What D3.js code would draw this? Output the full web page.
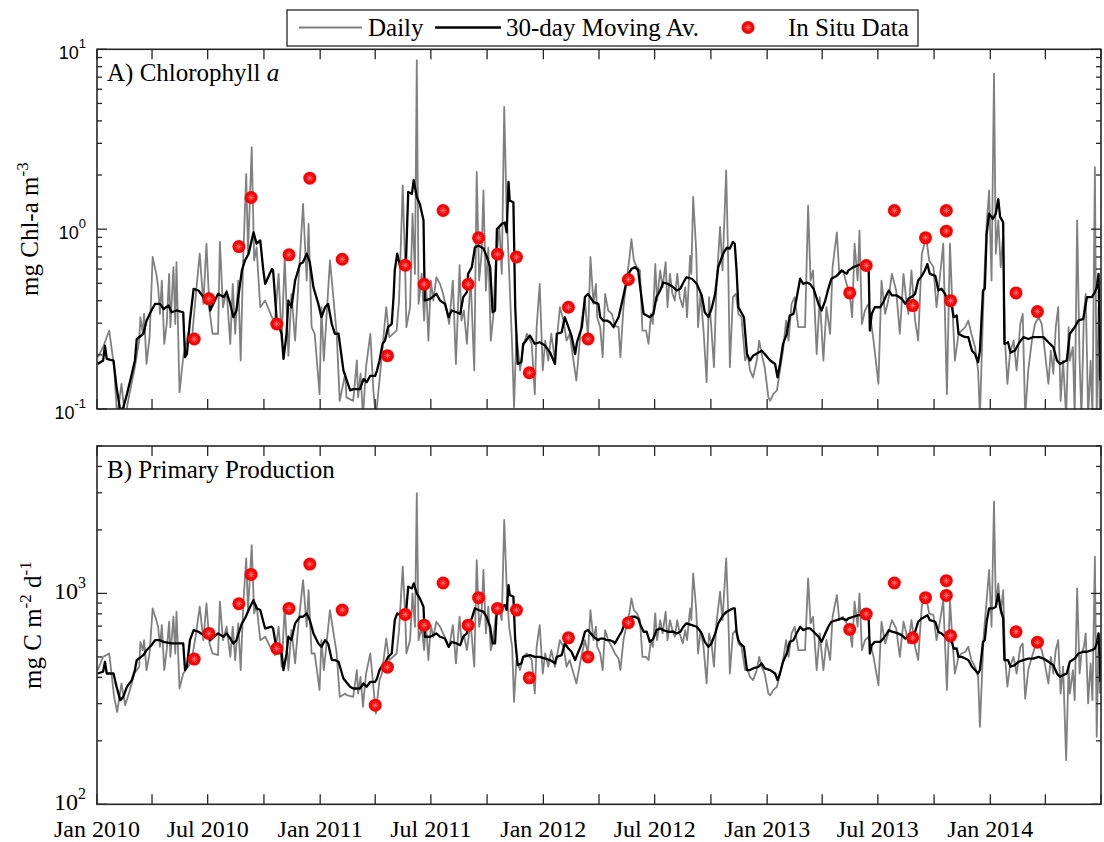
<!DOCTYPE html>
<html>
<head>
<meta charset="utf-8">
<script src="https://cdn.jsdelivr.net/npm/d3@7"></script>
<style>
body { margin: 0; background: #fff; }
svg { display: block; }
</style>
</head>
<body>
<svg id="chart" width="1104" height="842"></svg>
<script>
// days since 1 Jan 2010
var dailyDay = [1,10,20,28,33,40,46,53,61,69,71,75,77,81,86,91,97,100,103,106,110,114,118,120,125,128,130,135,141,149,155,162,168,174,179,184,189,198,201,206,212,218,222,226,231,235,239,244,247,253,257,261,267,275,286,291,297,302,307,313,318,324,329,337,343,346,351,356,364,367,371,381,392,397,406,
  408,419,425,427,431,435,440,447,452,456,462,466,473,478,490,494,500,504,506,512,516,520,523,526,531,535,538,542,546,550,555,561,566,571,576,582,587,593,596,600,605,611,617,621,625,629,632,636,640,644,648,652,658,662,666,670,674,679,682,686,692,697,703,711,716,719,724,729,733,738,743,749,757,763,768,773,784,792,798,803,807,812,816,
  818,823,827,831,836,842,847,853,856,861,866,871,874,878,883,888,892,898,902,906,909,913,916,921,925,930,933,937,941,945,949,953,958,962,965,970,972,975,980,983,987,992,997,1001,1005,1009,1013,1019,1023,1029,1032,1035,1040,1045,1049,1054,1060,1064,1068,1073,1079,1083,1087,1092,1098,1101,1106,1112,1117,1122,1127,1131,1136,1141,1147,1152,1158,1163,1167,1171,1177,1182,1188,1193,1199,1203,1210,1214,1220,1226,
  1231,1235,1239,1244,1247,1251,1256,1262,1270,1278,1283,1289,1294,1300,1307,1313,1319,1323,1327,1332,1338,1343,1349,1356,1361,1368,1373,1379,1384,1390,1395,1399,1403,1409,1414,1420,1425,1430,1436,1441,1444,1450,1455,1459,1463,1467,1470,1474,1478,1482,1485,1489,1493,1499,1504,1510,1514,1518,1523,1529,1534,1540,1545,1550,1556,1560,1564,1568,1572,1576,1580,1585,1589,1591,1596,1599,1603,1607,1610,1614,1617,1621,1625,1628,1632,1635,1638,1640];

var dailyChl = [0.194,0.221,0.273,0.171,0.09,0.138,0.09,0.121,0.164,0.240,0.324,0.262,0.338,0.178,0.251,0.70,0.564,0.475,0.338,0.518,0.230,0.297,0.564,0.285,0.615,0.297,0.655,0.124,0.194,0.262,0.240,0.447,0.73,0.384,0.83,0.353,0.262,0.262,0.85,0.368,0.456,0.230,0.496,0.262,0.518,0.186,0.67,2.03,0.73,2.86,0.67,0.79,0.368,0.401,0.324,0.310,0.564,0.240,0.70,0.198,0.437,0.240,0.475,1.38,0.518,1.07,0.285,0.262,0.121,0.368,0.186,0.67,0.262,0.111,0.157,
  0.116,0.111,0.186,0.116,0.157,0.09,0.171,0.262,0.127,0.09,0.144,0.202,0.368,0.251,0.273,0.401,1.75,0.615,0.285,0.368,1.22,0.564,8.69,0.384,0.564,0.310,0.518,0.240,0.518,0.401,0.54,0.496,0.437,0.368,0.297,0.518,0.178,0.63,0.310,0.353,0.230,0.54,0.164,2.08,0.518,0.73,1.64,0.456,0.79,0.240,0.324,0.64,1.03,0.564,4.78,1.22,0.59,0.221,0.102,0.262,0.164,0.221,0.262,0.230,0.121,0.285,0.496,0.164,0.240,0.186,0.262,0.186,0.368,0.310,0.240,0.262,0.144,0.297,0.401,0.251,0.70,0.384,0.496,
  0.324,0.285,0.194,0.437,0.353,0.338,0.291,0.285,0.194,0.368,0.518,0.70,0.88,0.67,0.615,0.59,0.273,0.273,0.230,0.338,0.297,0.64,0.401,0.59,0.475,0.655,0.368,0.564,0.437,0.401,0.564,0.419,0.368,0.475,0.324,0.71,0.564,1.51,0.76,0.285,0.437,0.273,0.141,0.419,0.273,0.171,0.475,1.03,0.59,2.12,0.73,0.171,0.419,0.437,0.338,0.324,0.186,0.202,0.164,0.150,0.186,0.240,0.202,0.171,0.116,0.111,0.121,0.127,0.164,0.211,0.310,0.240,0.384,0.419,0.285,0.285,0.285,1.35,0.518,0.59,0.202,0.419,0.186,0.368,0.262,0.615,0.96,0.564,0.59,0.496,
  0.437,0.324,0.83,0.518,0.98,0.297,0.353,0.384,0.240,0.138,0.518,0.338,0.401,0.564,0.456,0.262,0.564,0.419,0.338,0.59,0.310,0.240,0.73,0.90,0.67,0.615,0.368,0.564,0.83,0.121,0.83,0.368,0.186,0.262,0.273,0.285,0.310,0.262,0.221,0.164,0.09,0.437,1.07,1.64,0.518,7.32,0.73,1.12,0.615,0.94,0.240,0.138,0.202,0.240,0.164,0.297,0.338,0.09,0.164,0.240,0.297,0.324,0.297,0.211,0.138,0.211,0.157,0.285,0.368,0.111,0.186,0.09,0.285,0.186,0.221,0.09,1.12,0.186,0.09,0.338,0.437,0.09,0.186,0.09,2.21,0.09,0.368,0.09];

var dailyPP = [433,500,519,323,274,374,295,342,417,449,589,538,600,433,519,849,747,695,558,707,433,538,734,500,775,519,819,354,417,449,483,646,865,600,897,579,519,510,913,600,695,500,695,483,721,433,865,1466,834,1695,804,881,600,623,538,510,695,449,865,433,670,466,695,1157,695,1037,519,519,348,600,433,834,519,323,335,
  329,323,433,335,402,290,417,519,361,269,388,417,611,483,519,670,1339,804,519,600,1000,695,2985,600,695,538,721,483,707,623,734,695,646,600,558,707,466,775,600,634,538,734,449,1439,695,804,1291,646,865,538,600,775,834,747,2230,1076,695,558,306,483,433,500,519,483,335,558,707,417,519,449,538,449,600,558,449,483,374,500,600,519,834,600,695,
  558,519,433,670,600,558,519,491,433,600,707,819,947,834,804,747,500,500,483,600,558,804,600,747,646,819,600,747,670,623,747,646,579,670,600,849,747,1244,834,519,670,558,374,646,579,449,721,1018,747,1466,865,417,646,670,579,558,433,433,402,388,433,500,449,417,335,329,348,361,417,483,600,500,646,695,538,538,538,1178,721,775,433,646,433,600,483,775,982,747,775,721,
  670,558,913,695,1000,538,600,623,500,367,734,579,646,747,682,500,734,658,579,747,558,483,881,964,804,789,600,747,930,348,930,600,417,500,519,529,558,483,449,402,233,623,930,1291,695,2725,865,1116,804,1037,500,361,449,500,417,558,579,317,433,500,558,579,538,466,374,500,417,538,600,335,449,162,449,335,433,312,1056,417,519,558,646,301,466,312,1493,209,623,335];

var avgDay = [1,10,13,16,27,32,38,43,49,57,62,65,76,81,89,95,103,109,117,122,130,141,144,147,152,158,166,174,182,185,190,198,207,212,218,223,228,237,242,248,256,261,267,272,275,286,288,294,302,305,310,313,318,324,332,337,343,348,354,362,367,373,378,384,389,395,403,414,
  419,430,436,441,447,455,458,462,467,471,476,482,485,487,491,496,505,509,515,518,523,528,534,536,545,555,561,569,575,580,588,594,599,605,607,613,618,624,632,637,643,647,651,654,662,667,670,673,675,681,684,688,694,697,708,716,724,733,741,749,752,760,765,771,776,782,785,793,798,803,812,820,
  823,828,834,839,845,847,853,858,864,869,874,880,885,889,894,899,904,910,915,921,926,934,943,948,954,959,964,973,981,989,994,1000,1005,1011,1016,1024,1030,1035,1040,1043,1046,1049,1052,1058,1063,1068,1073,1082,1087,1092,1101,1109,1113,1117,1122,1128,1133,1139,1144,1150,1155,1161,1166,1172,1180,1185,1191,1196,1201,1210,1218,1226,
  1229,1237,1245,1253,1262,1264,1267,1272,1281,1286,1292,1295,1300,1308,1316,1322,1327,1332,1338,1343,1349,1354,1358,1362,1371,1376,1381,1387,1392,1398,1401,1406,1409,1414,1420,1425,1431,1436,1441,1444,1449,1452,1455,1459,1465,1470,1474,1477,1482,1484,1490,1494,1501,1507,1515,1523,1531,1540,1548,1556,1564,1570,1575,1580,1586,1591,1599,1605,1613,1619,1627,1632,1635,1638,1640,1641];

var avgChl = [0.178,0.186,0.225,0.190,0.186,0.132,0.098,0.102,0.121,0.157,0.186,0.245,0.262,0.310,0.353,0.384,0.384,0.36,0.376,0.345,0.353,0.345,0.194,0.202,0.310,0.466,0.456,0.419,0.437,0.353,0.384,0.437,0.419,0.447,0.384,0.324,0.353,0.59,0.67,0.73,0.96,0.83,0.865,0.59,0.496,0.60,0.59,0.310,0.262,0.190,0.262,0.401,0.368,0.518,0.64,0.655,0.73,0.655,0.475,0.384,0.324,0.368,0.384,0.297,0.262,0.262,0.164,0.127,
  0.129,0.129,0.147,0.141,0.153,0.153,0.164,0.186,0.230,0.240,0.285,0.297,0.419,0.59,0.73,0.615,0.615,1.61,1.57,1.87,1.51,1.38,1.12,0.401,0.41,0.437,0.401,0.384,0.324,0.353,0.345,0.338,0.419,0.447,0.564,0.615,0.79,0.81,0.78,0.71,0.615,0.345,0.353,1.0,1.07,1.09,0.96,1.83,1.44,1.41,0.368,0.178,0.182,0.230,0.256,0.230,0.235,0.225,0.206,0.178,0.262,0.267,0.324,0.285,0.256,0.202,0.235,0.285,0.419,0.437,0.393,0.384,
  0.324,0.310,0.310,0.304,0.285,0.297,0.324,0.384,0.475,0.564,0.60,0.615,0.59,0.456,0.338,0.331,0.324,0.338,0.419,0.456,0.505,0.496,0.475,0.456,0.466,0.505,0.54,0.53,0.496,0.428,0.345,0.324,0.36,0.437,0.615,0.73,0.79,0.78,0.85,0.83,0.59,0.368,0.353,0.324,0.202,0.186,0.198,0.206,0.211,0.202,0.186,0.178,0.150,0.178,0.230,0.262,0.331,0.338,0.41,0.53,0.496,0.505,0.496,0.466,0.384,0.353,0.401,0.466,0.53,0.55,0.59,0.564,
  0.59,0.615,0.63,0.64,0.615,0.273,0.338,0.368,0.368,0.393,0.437,0.456,0.428,0.428,0.41,0.384,0.41,0.419,0.437,0.518,0.55,0.59,0.64,0.564,0.55,0.456,0.466,0.437,0.384,0.376,0.324,0.331,0.262,0.256,0.251,0.251,0.211,0.202,0.182,0.211,0.456,0.466,0.94,1.22,1.14,1.22,1.47,1.17,1.09,0.230,0.235,0.206,0.211,0.230,0.251,0.245,0.251,0.251,0.251,0.235,0.221,0.186,0.178,0.182,0.186,0.262,0.285,0.310,0.317,0.419,0.419,0.447,0.475,0.564,0.230,0.144];

var avgPP = [417,425,474,417,417,361,312,323,361,388,433,483,510,538,568,600,600,589,583,579,579,579,433,449,600,670,658,634,623,600,619,646,623,646,611,579,600,721,761,834,930,849,834,734,682,695,682,538,519,433,519,623,600,721,775,775,804,747,646,579,558,600,579,483,483,474,395,361,
  354,354,374,361,381,381,395,433,457,466,500,519,646,747,804,789,789,1076,1056,1116,1000,947,865,623,623,646,623,611,558,589,579,568,623,646,721,761,849,834,819,775,695,579,579,849,865,881,834,1095,982,964,600,457,466,500,510,500,500,491,483,466,500,510,579,548,529,483,510,579,658,670,623,600,
  611,611,600,600,589,579,623,658,734,761,775,775,761,707,658,658,589,611,670,682,670,658,658,646,658,695,721,707,695,646,589,558,579,646,721,789,819,834,849,849,658,600,579,558,433,433,441,449,466,441,433,417,388,417,474,519,589,600,646,695,670,682,682,658,623,589,646,695,734,747,761,747,
  761,775,789,789,775,519,568,589,589,611,646,670,658,650,634,611,623,634,658,734,761,775,789,747,734,658,646,623,600,589,548,548,500,500,491,483,449,433,417,433,589,600,734,849,849,865,993,865,761,483,483,449,457,474,483,491,491,500,491,474,457,417,402,410,417,474,491,519,529,529,538,548,579,646,500,381];

var situChlDay = [159,183,232,252,294,314,348,401,475,504,535,566,607,624,655,686,707,771,803,869,1231,1258,1304,1334,1355,1389,1389,1396,1503,1538];
var situChl = [0.245,0.41,0.80,1.50,0.297,0.72,1.92,0.68,0.198,0.63,0.494,1.27,0.494,0.895,0.726,0.70,0.159,0.368,0.245,0.525,0.442,0.628,1.27,0.376,0.895,1.27,0.975,0.40,0.442,0.348];
var situPPDay = [159,183,232,252,294,314,348,401,455,475,504,535,566,607,624,655,686,707,771,803,869,1231,1258,1304,1334,1355,1389,1389,1396,1503,1538];
var situPP = [488,646,893,1230,548,849,1378,834,295,447,795,707,1120,707,954,849,834,398,616,500,726,675,798,1120,616,954,1149,978,630,658,587];

var svg = d3.select("#chart");
var serif = "'Liberation Serif', 'Times New Roman', serif";
var sans = "'Liberation Sans', Arial, sans-serif";
var axisColor = "#262626";

var t0 = new Date(Date.UTC(2010, 0, 1)),
    t1 = new Date(Date.UTC(2014, 6, 1));
function toDate(d) { return d3.utcDay.offset(t0, d); }

var x = d3.scaleUtc().domain([t0, t1]).range([97, 1101]);

var panels = [
  { y: d3.scaleLog().domain([0.1, 10]).range([409, 49.3]),
    daily: dailyChl, avg: avgChl, situDay: situChlDay, situ: situChl,
    title: "A) Chlorophyll ", titleIt: "a", titleY: 81,
    tickFont: sans, tickSize: 18, supSize: 13, tickDy: 10, supDy: -11,
    ylab: [["mg Chl-a m", 0], ["-3", 1]], ylabX: 38 },
  { y: d3.scaleLog().domain([100, 5000]).range([804.3, 446]),
    daily: dailyPP, avg: avgPP, situDay: situPPDay, situ: situPP,
    title: "B) Primary Production", titleIt: "", titleY: 478,
    tickFont: serif, tickSize: 24, supSize: 16, tickDy: 5.5, supDy: -11,
    ylab: [["mg C m", 0], ["-2", 1], [" d", 0], ["-1", 1]], ylabX: 41 }
];

var x0 = x.range()[0], x1 = x.range()[1];

panels.forEach(function(p, i) {
  var y0 = p.y.range()[0], y1 = p.y.range()[1];
  var g = svg.append("g");

  g.append("clipPath").attr("id", "clip" + i)
    .append("rect").attr("x", x0).attr("y", y1).attr("width", x1 - x0).attr("height", y0 - y1);

  var plot = g.append("g").attr("clip-path", "url(#clip" + i + ")");

  var line = d3.line()
    .x(function(d) { return x(toDate(d[0])); })
    .y(function(d) { return p.y(d[1]); });

  plot.append("path")
    .datum(dailyDay.map(function(d, k) { return [d, p.daily[k]]; }))
    .attr("d", line)
    .attr("fill", "none")
    .attr("stroke", "#808080")
    .attr("stroke-width", 1.8)
    .attr("stroke-linejoin", "round");

  plot.append("path")
    .datum(avgDay.map(function(d, k) { return [d, p.avg[k]]; }))
    .attr("d", line)
    .attr("fill", "none")
    .attr("stroke", "#000")
    .attr("stroke-width", 2.3)
    .attr("stroke-linejoin", "round");

  var dots = g.selectAll(".dot" + i)
    .data(p.situDay.map(function(d, k) { return [d, p.situ[k]]; }))
    .join("g")
    .attr("transform", function(d) { return "translate(" + x(toDate(d[0])) + "," + p.y(d[1]) + ")"; });
  dots.append("circle").attr("r", 6.5).attr("fill", "#ff0000");
  [0, 45, 90, 135].forEach(function(a) {
    dots.append("line")
      .attr("x1", -3.5).attr("x2", 3.5).attr("y1", 0).attr("y2", 0)
      .attr("transform", "rotate(" + a + ")")
      .attr("stroke", "#ff8a8a").attr("stroke-width", 0.7);
  });

  // axes box
  g.append("rect")
    .attr("x", x0).attr("y", y1).attr("width", x1 - x0).attr("height", y0 - y1)
    .attr("fill", "none").attr("stroke", axisColor).attr("stroke-width", 1.6);

  // x ticks, every three months, on both edges
  var xt = x.ticks(d3.utcMonth.every(3));
  g.selectAll(".xb" + i).data(xt).join("line")
    .attr("x1", function(d) { return x(d); }).attr("x2", function(d) { return x(d); })
    .attr("y1", y0).attr("y2", y0 - 10)
    .attr("stroke", axisColor).attr("stroke-width", 1.3);
  g.selectAll(".xt" + i).data(xt).join("line")
    .attr("x1", function(d) { return x(d); }).attr("x2", function(d) { return x(d); })
    .attr("y1", y1).attr("y2", y1 + 10)
    .attr("stroke", axisColor).attr("stroke-width", 1.3);

  // y ticks (log), major and minor, on both edges
  var yt = p.y.ticks();
  function isMajor(v) { return Math.abs(Math.log10(v) - Math.round(Math.log10(v))) < 1e-9; }
  [[x0, 1], [x1, -1]].forEach(function(side) {
    g.selectAll(null).data(yt).join("line")
      .attr("x1", side[0])
      .attr("x2", function(d) { return side[0] + side[1] * (isMajor(d) ? 10 : 5); })
      .attr("y1", function(d) { return p.y(d); }).attr("y2", function(d) { return p.y(d); })
      .attr("stroke", axisColor).attr("stroke-width", 1.3);
  });

  var lab = g.selectAll(null).data(yt.filter(isMajor)).join("text")
    .attr("x", 86)
    .attr("y", function(d) { return p.y(d) + p.tickDy; })
    .attr("text-anchor", "end")
    .attr("font-family", p.tickFont)
    .attr("font-size", p.tickSize)
    .attr("fill", "#000");
  lab.append("tspan").text("10");
  lab.append("tspan")
    .attr("dy", p.supDy)
    .attr("font-size", p.supSize)
    .text(function(d) { return String(Math.round(Math.log10(d))); });

  // panel title
  var tt = g.append("text")
    .attr("x", 107).attr("y", p.titleY)
    .attr("font-family", serif).attr("font-size", 25).attr("fill", "#000");
  tt.append("tspan").text(p.title);
  if (p.titleIt) tt.append("tspan").attr("font-style", "italic").text(p.titleIt);

  // y axis title
  var yl = g.append("text")
    .attr("transform", "translate(" + p.ylabX + "," + ((y0 + y1) / 2) + ") rotate(-90)")
    .attr("text-anchor", "middle")
    .attr("font-family", serif).attr("font-size", 25).attr("fill", "#000");
  var up = false;
  p.ylab.forEach(function(part) {
    var ts = yl.append("tspan").text(part[0]);
    if (part[1] && !up) { ts.attr("dy", -10).attr("font-size", 17); up = true; }
    else if (!part[1] && up) { ts.attr("dy", 10); up = false; }
  });

  // x tick labels on the lower panel only
  if (i === 1) {
    g.selectAll(null)
      .data(xt.filter(function(d) { return (d.getUTCMonth() === 0 || d.getUTCMonth() === 6) && d < t1; }))
      .join("text")
      .attr("x", function(d) { return x(d); })
      .attr("y", 836.5)
      .attr("text-anchor", "middle")
      .attr("font-family", serif).attr("font-size", 24).attr("fill", "#000")
      .text(d3.utcFormat("%b %Y"));
  }
});

// legend
var lg = svg.append("g");
lg.append("rect").attr("x", 287).attr("y", 10).attr("width", 631).attr("height", 36)
  .attr("fill", "#fff").attr("stroke", axisColor).attr("stroke-width", 1.3);
lg.append("line").attr("x1", 299).attr("x2", 362).attr("y1", 27.5).attr("y2", 27.5)
  .attr("stroke", "#808080").attr("stroke-width", 1.8);
lg.append("line").attr("x1", 435).attr("x2", 501).attr("y1", 27.5).attr("y2", 27.5)
  .attr("stroke", "#000").attr("stroke-width", 2.3);
var ld = lg.append("g").attr("transform", "translate(748,27.5)");
ld.append("circle").attr("r", 6.5).attr("fill", "#ff0000");
[0, 45, 90, 135].forEach(function(a) {
  ld.append("line").attr("x1", -3.5).attr("x2", 3.5).attr("transform", "rotate(" + a + ")")
    .attr("stroke", "#ff8a8a").attr("stroke-width", 0.7);
});
[["Daily", 368], ["30-day Moving Av.", 506], ["In Situ Data", 788]].forEach(function(t) {
  lg.append("text").attr("x", t[1]).attr("y", 36)
    .attr("font-family", serif).attr("font-size", 25).attr("fill", "#000")
    .text(t[0]);
});
</script>
</body>
</html>
